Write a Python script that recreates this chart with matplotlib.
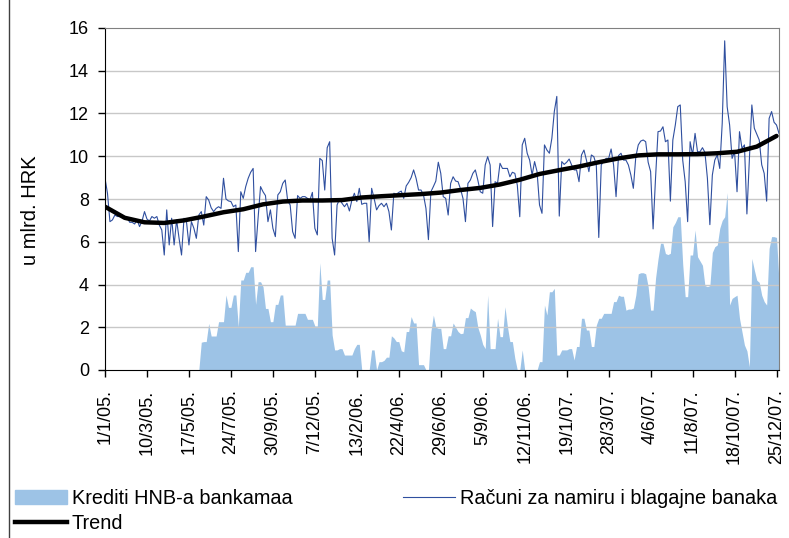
import numpy as np
import pandas as pd
import matplotlib
matplotlib.use('Agg')
import matplotlib.pyplot as plt
from matplotlib.lines import Line2D
from matplotlib.patches import Patch

plt.rcParams['font.family'] = ['Liberation Sans', 'DejaVu Sans']

# values, one sample every 4 days starting 1/1/05
racuni_2005 = [8.97, 8.27, 6.94, 7.02, 7.25, 7.18, 7.18, 7.25, 7.13, 7.13,
               6.91, 6.91, 6.83, 7.02, 6.71, 6.97, 7.41, 7.06, 6.97, 7.18,
               7.10, 7.18, 6.78, 6.55, 5.38, 7.49, 5.85, 7.10, 5.85, 7.02,
               6.16, 5.38, 7.10, 6.94, 5.85, 6.94, 6.63, 6.16, 7.25,
               7.41, 6.78, 8.11, 7.95, 7.59, 7.41, 7.56, 7.64, 7.56, 8.97,
               8.00, 7.91, 7.88, 7.64, 7.72, 5.54, 8.34, 8.03, 8.58, 8.97,
               9.25, 9.43, 5.54, 7.10, 8.58, 8.34, 8.16, 6.94, 7.49, 6.63,
               6.24, 8.19, 8.34, 8.73, 8.89, 7.91, 7.72, 6.47,
               6.16, 8.16, 8.03, 8.11, 8.11, 8.03, 7.95, 8.31, 6.63, 6.32,
               9.90, 9.80, 8.42, 10.40, 10.68]
racuni_2006 = [6.16, 5.38, 7.72, 8.00, 7.80, 7.64, 7.80, 7.44, 7.95, 8.27,
               7.88, 8.50, 7.75, 7.80, 7.80, 6.00, 8.50, 8.03, 7.49, 7.69,
               7.80, 7.64, 7.80, 7.41,
               6.55, 8.27, 8.22, 8.31, 8.37, 8.03, 8.61, 8.78, 9.00, 9.36,
               8.97, 8.42, 8.42, 8.19, 7.56, 6.10, 8.34, 8.58, 8.84, 9.72,
               9.20, 8.11, 8.03, 7.25, 8.73, 9.04, 8.84, 8.81, 8.47, 8.03,
               6.94, 8.73, 8.89, 9.20, 9.36, 8.89, 8.34, 8.27,
               9.59, 9.98, 9.59, 6.71, 8.81, 8.73, 9.67, 9.43, 9.43, 9.43,
               9.04, 9.25, 9.20, 8.65, 7.17, 10.53, 10.84, 10.14, 9.82, 9.12,
               9.75, 9.28, 7.72, 7.33, 10.53, 10.29, 10.14, 10.84, 12.10]
racuni_2007 = [12.80, 7.20, 9.75, 9.62, 9.72, 9.87, 9.59, 9.36, 9.36, 8.81,
               10.06, 10.29, 9.82, 9.28, 10.06, 9.98, 9.59, 6.20, 9.59, 9.78,
               9.90, 9.90, 10.34, 9.59, 8.11, 10.03, 10.14, 9.82, 9.82, 9.59,
               9.12, 8.50, 9.98, 10.53, 10.71, 10.76, 10.68, 9.72, 9.28, 6.60,
               9.00, 11.15, 11.18, 11.38, 10.68, 10.76, 7.90, 10.76,
               11.46, 12.32, 12.40, 9.82, 8.81, 6.94, 10.68, 10.06, 11.07, 10.21,
               10.21, 10.40, 10.18, 8.97, 6.80, 9.12, 9.82, 10.06, 9.43, 11.54,
               15.40, 12.32, 11.46, 9.90, 10.21, 8.34, 11.15, 10.37, 10.53, 7.30,
               9.90, 12.40, 11.31, 11.03, 10.76, 9.60, 9.20, 7.90, 11.77, 12.09,
               11.59, 11.46, 11.07]

krediti_2005 = [0] * 39 + [
    1.3, 1.33, 1.33, 2.18, 1.59, 1.59, 1.59, 2.26, 2.26, 2.26,
    3.51, 2.93, 2.93, 3.51, 3.51, 2.03, 4.21, 4.21, 4.57, 4.57,
    4.83, 4.83, 3.07, 4.13, 4.13, 3.9, 2.88, 2.88, 2.26, 2.26,
    3.07, 3.07, 3.51, 3.51, 2.1, 2.1, 2.1, 2.1, 2.1, 2.65,
    2.65, 2.65, 2.65, 2.37, 2.37, 2.37, 2.06, 2.06, 5.02, 3.3,
    3.3, 4.21, 4.21]
krediti_2006 = [1.64, 0.94, 0.94, 1.0, 1.0, 0.7, 0.7, 0.7, 0.7, 1.0,
                1.2, 1.2, 0, 0, 0, 0, 0.94, 0.94, 0, 0.39,
                0.39, 0.45, 0.6, 0.6, 1.6, 1.5, 1.33, 1.33, 0.9, 0.85,
                1.8, 1.8, 2.5, 2.2, 2.2, 0.25, 0.25, 0.25, 0, 0,
                1.8, 2.57, 2.0, 1.95, 1.95, 1.0, 1.0, 1.6, 1.6, 2.2,
                2.0, 1.8, 1.7, 1.72, 2.45, 2.45, 2.9, 2.8, 2.73, 2.0,
                1.64, 1.2, 1.0, 3.5, 1.0, 1.0, 1.0, 2.42, 1.56, 1.56,
                2.96, 2.03, 1.33, 1.33, 0.55, 0, 0, 0.94, 0, 0,
                0, 0, 0, 0, 0.39, 0.39, 3.04, 2.57, 3.66, 3.66,
                3.82]
krediti_2007 = [0.7, 0.7, 0.94, 0.94, 0.94, 1.0, 1.0, 0.47, 1.1, 1.1,
                2.42, 2.42, 1.87, 1.87, 1.1, 1.1, 2.1, 2.42, 2.42, 2.65,
                2.65, 2.65, 2.65, 3.2, 3.2, 3.5, 3.45, 3.45, 2.8, 2.85,
                2.85, 2.9, 3.5, 4.5, 4.55, 4.55, 4.5, 3.9, 2.8, 2.8,
                4.3, 5.2, 5.93, 5.93, 5.45, 5.4, 5.46, 6.7, 6.9, 7.17,
                7.17, 4.95, 3.43, 3.43, 5.38, 5.38, 6.55, 5.3, 5.1, 4.9,
                3.95, 3.9, 3.95, 5.5, 5.77, 5.85, 6.63, 7.0, 7.17, 8.3,
                3.04, 3.35, 3.43, 3.5, 2.42, 1.79, 1.17, 0.9, 0.15, 5.22,
                4.68, 4.2, 4.1, 3.5, 3.2, 3.04, 5.69, 6.24, 6.24, 6.2,
                4.13]

# trend, one value every 32 days
trend = [7.64, 7.12, 6.91, 6.88, 7.00, 7.18, 7.38, 7.52, 7.75, 7.88,
         7.93, 7.93, 7.95, 8.07, 8.13, 8.18, 8.23, 8.30, 8.42, 8.52,
         8.68, 8.90, 9.17, 9.35, 9.52, 9.72, 9.90, 10.04, 10.09, 10.09,
         10.10, 10.14, 10.21, 10.45, 10.95]

tick_labels = ['1/1/05.', '10/3/05.', '17/5/05.', '24/7/05.', '30/9/05.',
               '7/12/05.', '13/2/06.', '22/4/06.', '29/6/06.', '5/9/06.',
               '12/11/06.', '19/1/07.', '28/3/07.', '4/6/07.', '11/8/07.',
               '18/10/07.', '25/12/07.']

racuni = np.array(racuni_2005 + racuni_2006 + racuni_2007)
krediti = np.array(krediti_2005 + krediti_2006 + krediti_2007)
dates = pd.date_range('2005-01-01', periods=len(racuni), freq='4D')
trend_dates = pd.date_range('2005-01-01', periods=len(trend), freq='32D')
tick_dates = pd.date_range('2005-01-01', periods=len(tick_labels), freq='68D')

W, H = 789, 538
fig = plt.figure(figsize=(W / 100, H / 100), dpi=100)
ax = fig.add_axes([105 / W, 168 / H, 674 / W, 342 / H])

bar_col = '#9dc3e6'
line_col = '#2f4f9f'

ax.fill_between(dates, 0, krediti, color=bar_col, lw=0, zorder=1)
for y in range(2, 16, 2):
    ax.axhline(y, color='#c8c8c8', lw=1, zorder=1.5)
ax.plot(dates, racuni, color=line_col, lw=0.8, zorder=2)
ax.plot(trend_dates, trend, color='black', lw=3.2, solid_capstyle='round', zorder=3)

ax.set_ylim(0, 16)
ax.set_yticks(range(0, 17, 2))
ax.set_xlim(pd.Timestamp('2005-01-01'), pd.Timestamp('2007-12-29'))
ax.set_xticks(tick_dates)
ax.set_xticklabels(tick_labels, rotation=90)
ax.tick_params(axis='both', direction='out', length=5, width=1, labelsize=13)
ax.tick_params(axis='y', pad=6.5)
ax.tick_params(axis='x', pad=9)

for s in ['left', 'bottom']:
    ax.spines[s].set_color('black')
for s in ['top', 'right']:
    ax.spines[s].set_color('#808080')

fig.text(30 / W, 1 - 210 / H, 'u mlrd. HRK', rotation=90, va='center',
         ha='center', fontsize=14.5)

handles = [Patch(color=bar_col),
           Line2D([], [], color='black', lw=3.2),
           Line2D([], [], color=line_col, lw=0.8)]
labels = ['Krediti HNB-a bankamaa', 'Trend', 'Računi za namiru i blagajne banaka']
fig.legend(handles, labels, ncol=2, loc='upper left',
           bbox_to_anchor=(15 / W, 1 - 489 / H), frameon=False, fontsize=14.3,
           handlelength=2.6, handletextpad=0.25, columnspacing=5.6,
           borderpad=0, borderaxespad=0, labelspacing=0.3)

fig.add_artist(Line2D([9 / W, 9 / W], [0, 1], color='#404040', lw=1))

fig.savefig('out.png', dpi=100)
